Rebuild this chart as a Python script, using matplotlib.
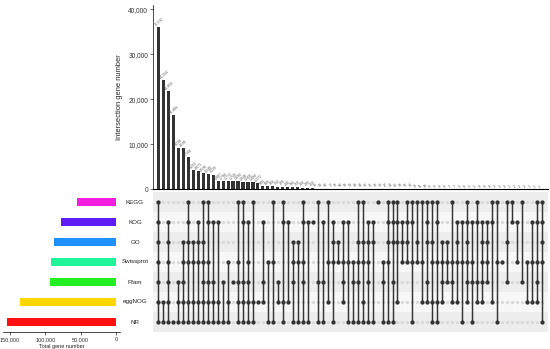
import matplotlib
matplotlib.use("Agg")
import matplotlib.pyplot as plt
from matplotlib.transforms import blended_transform_factory
from matplotlib.ticker import FuncFormatter

plt.rcParams['font.family'] = ['Liberation Sans', 'DejaVu Sans']

# ---------------- data ----------------
sets = ["KEGG", "KOG", "GO", "Swissprot", "Pfam", "eggNOG", "NR"]
set_sizes = [54800, 77900, 87800, 92000, 93000, 136000, 154000]
set_colors = ["#f21ee0", "#5f1df5", "#1e90ff", "#1ef59a", "#22ee22", "#ffd700", "#ff1010"]

# intersection sizes (sorted, left to right)
inter_values = [36132, 24154, 21855, 16494, 9236, 9195, 7166, 4255, 4073, 3536,
                3240, 3225, 1807, 1790, 1772, 1745, 1690, 1640, 1560, 1484,
                1372, 680, 620, 560, 510, 470, 430, 390, 350, 320,
                290, 260, 98, 90, 84, 77, 70, 64, 58, 53,
                48, 44, 40, 36, 33, 30, 27, 24, 21, 18,
                16, 14, 12, 11, 10, 9, 9, 8, 8, 7,
                7, 6, 6, 5, 5, 4, 4, 4, 3, 3,
                3, 2, 2, 2, 2, 1, 1, 1]

# membership of each intersection: indices into `sets` (0=KEGG ... 6=NR)
inter_members = [
    [0, 1, 2, 3, 4, 5, 6], [5, 6], [1, 2, 3, 4, 5, 6], [6], [4, 5, 6],
    [2, 3, 4, 5, 6], [0, 1, 2, 3, 5, 6], [2, 3, 5, 6], [1, 2, 3, 5, 6], [0, 2, 3, 4, 5, 6],
    [0, 1, 3, 4, 5, 6], [1, 4, 5, 6], [1, 5, 6], [4, 6], [3, 5, 6],
    [4], [0, 3, 4, 5, 6], [0, 1, 4, 5, 6], [1, 3, 4, 5, 6], [0, 5, 6],
    [5], [1, 4, 5], [3, 6], [0, 3, 6], [4, 5],
    [0, 1, 5, 6], [1, 5], [2, 3, 4, 6], [2, 3, 6], [0, 1, 3, 4, 6],
    [1, 6], [1], [0, 4, 6], [1, 4, 6], [0, 3, 5],
    [1, 2, 3, 6], [2, 3], [1, 3, 4, 5], [1, 3, 6], [3, 4, 6],
    [0, 2, 3, 4, 6], [0, 2, 3, 5, 6], [1, 2, 3, 4, 6], [1, 2, 6], [0],
    [3, 4, 6], [0, 1, 2, 3, 6], [0, 1, 2, 4, 6], [0, 1, 2, 5], [1, 2, 3],
    [0, 1, 2, 3], [0, 1, 3, 6], [0, 2, 3], [0, 3, 5], [0, 1, 2, 4, 5],
    [0, 2, 3, 5, 6], [0, 1, 3, 5, 6], [2, 3, 4, 5], [2, 3, 4], [0, 3, 4, 5],
    [1, 2, 3, 5], [1, 3, 6], [0, 1, 2, 3, 4, 5], [1, 3, 4, 6], [0, 1, 4, 5],
    [1, 2, 3, 4, 5], [1, 2, 3, 4], [0, 1, 5], [0, 3, 6], [3],
    [0, 2, 4], [0, 1], [1, 3], [0, 4], [3, 5],
    [1, 3, 5], [0, 1, 3, 4, 5], [0, 1, 2, 3, 6],
]

n = len(inter_values)
W, H = 550, 349
fig = plt.figure(figsize=(W / 100, H / 100), dpi=100)

def fx(px):
    return px / W

def fy(py):
    return 1 - py / H

x_left, x_right = 153, 548
xlim = (-1.06, 78.2)
bar_col = "#333333"
dark = "#333333"

# ---------------- top intersection bars ----------------
ax_top = fig.add_axes([fx(x_left), fy(189), fx(x_right - x_left), (189 - 4.8) / H])
xs = list(range(n))
ax_top.bar(xs, inter_values, width=0.62, color=bar_col, linewidth=0)
ax_top.set_xlim(*xlim)
ax_top.set_ylim(0, 41000)
ax_top.set_yticks([0, 10000, 20000, 30000, 40000])
ax_top.yaxis.set_major_formatter(FuncFormatter(lambda v, p: f"{int(v):,}"))
ax_top.tick_params(axis='y', labelsize=4.7, length=2, width=0.5, pad=1.5, colors="#333333")
ax_top.set_xticks([])
for s in ["top", "right"]:
    ax_top.spines[s].set_visible(False)
ax_top.spines["left"].set_linewidth(0.5)
ax_top.spines["bottom"].set_linewidth(0.8)
ax_top.set_ylabel("Intersection gene number", fontsize=5.4, labelpad=4, color="#222222")
for x, v in zip(xs, inter_values):
    ax_top.text(x - 0.35, v + 150, f"{v:,}", rotation=40, rotation_mode='anchor',
                ha='left', va='bottom', fontsize=2.5, color="#555555")

# ---------------- matrix ----------------
ax_m = fig.add_axes([fx(x_left), fy(332), fx(x_right - x_left), 140 / H])
ax_m.set_xlim(*xlim)
ax_m.set_ylim(6.5, -0.5)
for i in range(len(sets)):
    col = "#ededed" if i % 2 == 0 else "#f7f7f7"
    ax_m.axhspan(i - 0.5, i + 0.5, color=col, linewidth=0, zorder=0)
for x, mem in zip(xs, inter_members):
    inactive = [r for r in range(len(sets)) if r not in mem]
    ax_m.scatter([x] * len(inactive), inactive, s=6, color="#dadada", linewidths=0, zorder=2)
    if len(mem) > 1:
        ax_m.plot([x, x], [min(mem), max(mem)], color=dark, linewidth=1.05, zorder=3)
    ax_m.scatter([x] * len(mem), mem, s=9.5, color=dark, linewidths=0, zorder=4)
ax_m.axis('off')

# set labels
tr = blended_transform_factory(fig.transFigure, ax_m.transData)
for i, name in enumerate(sets):
    fig.text(fx(135), i, name, transform=tr, ha='center', va='center',
             fontsize=4.5, color="#222222")

# ---------------- left set size bars ----------------
ax_l = fig.add_axes([fx(3), fy(332), fx(117), 140 / H])
ax_l.barh(range(len(sets)), set_sizes, height=0.42, color=set_colors, linewidth=0)
ax_l.set_xlim(160000, -5600)
ax_l.set_ylim(6.5, -0.5)
ax_l.set_yticks([])
ax_l.set_xticks([150000, 100000, 50000, 0])
ax_l.xaxis.set_major_formatter(FuncFormatter(lambda v, p: f"{int(v):,}"))
ax_l.tick_params(axis='x', labelsize=4.0, length=2, width=0.5, pad=1.5, colors="#333333")
for s in ["top", "right", "left"]:
    ax_l.spines[s].set_visible(False)
ax_l.spines["bottom"].set_linewidth(0.5)
ax_l.set_xlabel("Total gene number", fontsize=4.0, labelpad=1.5, color="#222222")

fig.savefig("out.png", dpi=100)
